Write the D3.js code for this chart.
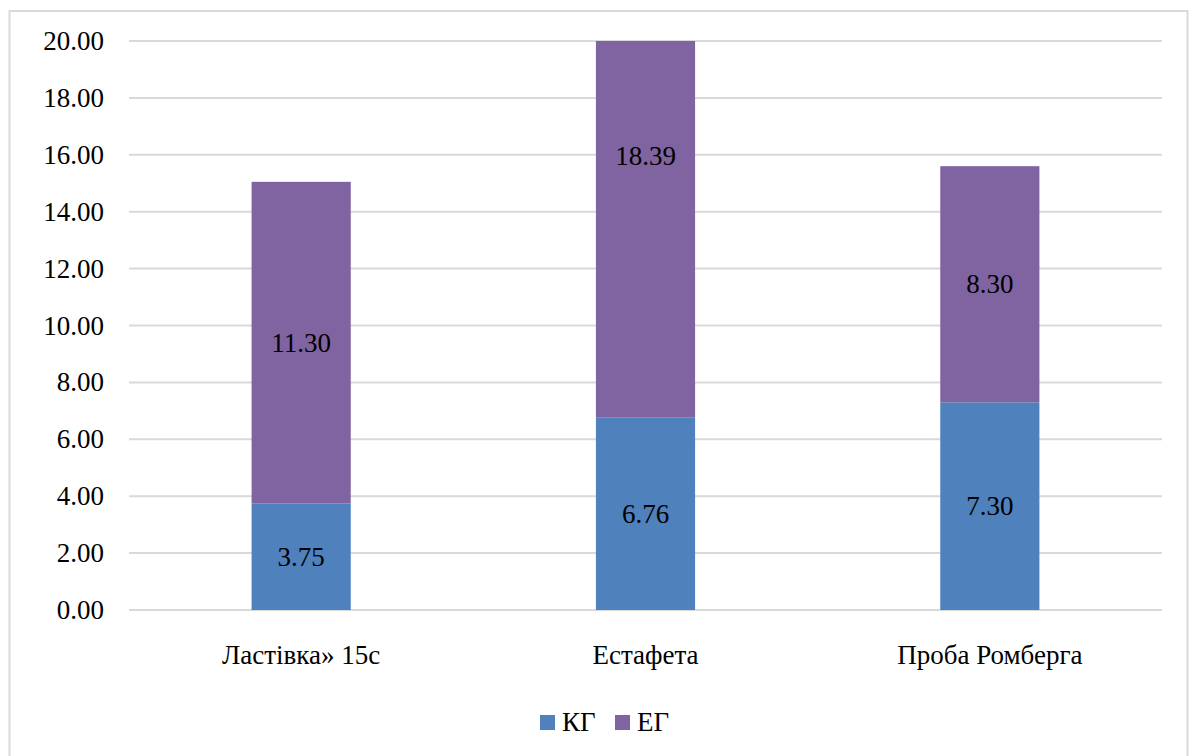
<!DOCTYPE html>
<html>
<head>
<meta charset="utf-8">
<script src="https://cdn.jsdelivr.net/npm/d3@7/dist/d3.min.js"></script>
<style>
  html, body { margin: 0; padding: 0; background: #fff; }
  #wrap { position: relative; width: 1192px; height: 756px; overflow: hidden; }
  #wrap svg { position: absolute; left: 0; top: 0; display: block; }
  .lbl {
    position: absolute;
    font-family: "Liberation Serif", "Times New Roman", serif;
    font-size: 27px;
    line-height: 1;
    color: #000;
    white-space: nowrap;
  }
  .lbl.end { transform: translate(-100%, -50%); }
  .lbl.mid { transform: translate(-50%, -50%); }
  .lbl.start { transform: translate(0, -50%); }
</style>
</head>
<body>
<div id="wrap"><svg id="chart" width="1192" height="756"></svg></div>
<script>
// Test categories and group values
const categories = ["Ластівка» 15с", "Естафета", "Проба Ромберга"];
const seriesNames = ["КГ", "ЕГ"];
const kgValues = [3.75, 6.76, 7.30];
const egValues = [11.30, 18.39, 8.30];
const yTicks = [0, 2, 4, 6, 8, 10, 12, 14, 16, 18, 20];
const colors = ["#4F81BD", "#8064A2"];

const wrap = d3.select("#wrap");
const svg = d3.select("#chart");
const plot = { left: 129, right: 1162, top: 41, bottom: 610 };

// outer frame
svg.append("rect")
  .attr("x", 9.5).attr("y", 11)
  .attr("width", 1178).attr("height", 760)
  .attr("fill", "#fff").attr("stroke", "#D9D9D9").attr("stroke-width", 2);

const x = d3.scaleBand()
  .domain(categories)
  .range([plot.left, plot.right])
  .paddingInner(0.712)
  .paddingOuter(0.356);

const y = d3.scaleLinear().domain([0, 20]).range([plot.bottom, plot.top]);

// gridlines
svg.append("g")
  .selectAll("line")
  .data(yTicks)
  .join("line")
  .attr("x1", plot.left).attr("x2", plot.right)
  .attr("y1", d => y(d)).attr("y2", d => y(d))
  .attr("stroke", "#D9D9D9").attr("stroke-width", 2);

// text labels are HTML boxes laid over the svg
function addLabels(data, cls, fx, fy, ft) {
  wrap.selectAll(null)
    .data(data)
    .enter()
    .append("div")
    .attr("class", "lbl " + cls)
    .style("left", d => fx(d) + "px")
    .style("top", d => fy(d) + "px")
    .text(ft);
}

// y tick labels
addLabels(yTicks, "end", () => 104, d => y(d), d => d.toFixed(2));

// stacked data
const rows = categories.map((c, i) => ({ cat: c, "КГ": kgValues[i], "ЕГ": egValues[i] }));
const stacked = d3.stack().keys(seriesNames)(rows);

svg.append("defs").append("clipPath").attr("id", "plotClip")
  .append("rect")
  .attr("x", plot.left).attr("y", plot.top)
  .attr("width", plot.right - plot.left).attr("height", plot.bottom - plot.top);

const barsG = svg.append("g").attr("clip-path", "url(#plotClip)");
stacked.forEach((layer, si) => {
  barsG.append("g")
    .attr("fill", colors[si])
    .selectAll("rect")
    .data(layer)
    .join("rect")
    .attr("x", d => x(d.data.cat))
    .attr("width", x.bandwidth())
    .attr("y", d => y(d[1]))
    .attr("height", d => y(d[0]) - y(d[1]));
});

// value labels at segment centres
stacked.forEach(layer => {
  addLabels(layer, "mid",
    d => x(d.data.cat) + x.bandwidth() / 2,
    d => y((d[0] + d[1]) / 2),
    d => (d[1] - d[0]).toFixed(2));
});

// category labels
addLabels(categories, "mid", d => x(d) + x.bandwidth() / 2, () => 655, d => d);

// legend
const legendItems = [
  { name: seriesNames[0], color: colors[0], x: 540 },
  { name: seriesNames[1], color: colors[1], x: 615 }
];
svg.append("g")
  .selectAll("rect")
  .data(legendItems)
  .join("rect")
  .attr("x", d => d.x).attr("y", 715)
  .attr("width", 15).attr("height", 15)
  .attr("fill", d => d.color);
addLabels(legendItems, "start", d => d.x + 22, () => 722, d => d.name);
</script>
</body>
</html>
